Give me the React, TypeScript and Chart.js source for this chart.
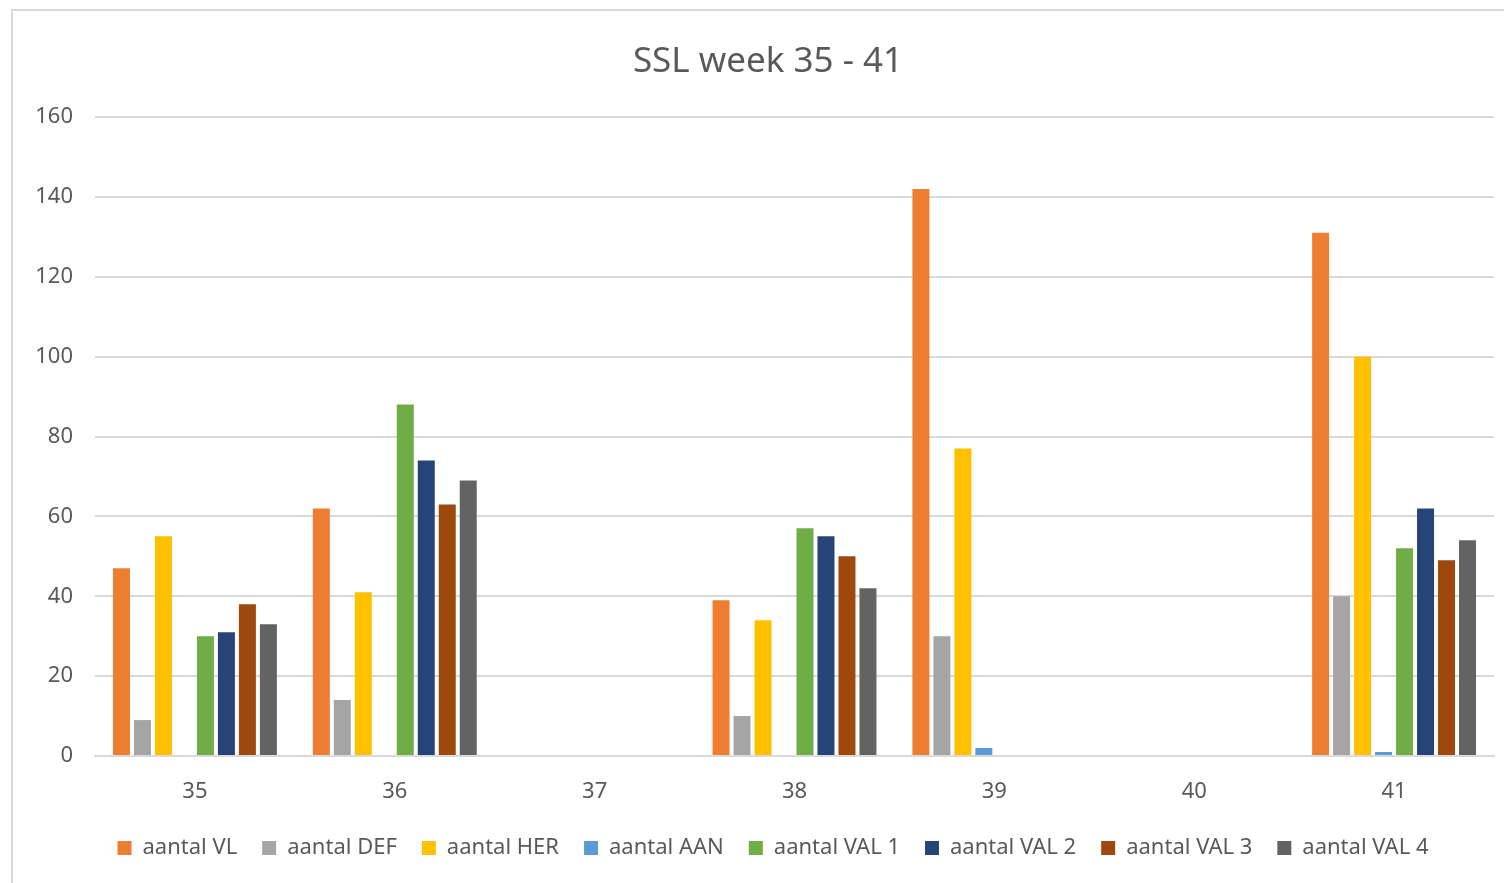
import React, { useEffect, useRef } from "react";
import { Chart, registerables } from "chart.js";

Chart.register(...registerables);

const weeks = ["35", "36", "37", "38", "39", "40", "41"];
const seriesNames = [
  "aantal VL",
  "aantal DEF",
  "aantal HER",
  "aantal AAN",
  "aantal VAL 1",
  "aantal VAL 2",
  "aantal VAL 3",
  "aantal VAL 4",
];
const aantalVL = [47, 62, 0, 39, 142, 0, 131];
const aantalDEF = [9, 14, 0, 10, 30, 0, 40];
const aantalHER = [55, 41, 0, 34, 77, 0, 100];
const aantalAAN = [0, 0, 0, 0, 2, 0, 1];
const aantalVAL1 = [30, 88, 0, 57, 0, 0, 52];
const aantalVAL2 = [31, 74, 0, 55, 0, 0, 62];
const aantalVAL3 = [38, 63, 0, 50, 0, 0, 49];
const aantalVAL4 = [33, 69, 0, 42, 0, 0, 54];
const seriesColors = [
  "#ED7D31",
  "#A5A5A5",
  "#FFC000",
  "#5B9BD5",
  "#70AD47",
  "#264478",
  "#9E480E",
  "#636363",
];
const titleText = "SSL week 35 - 41";

const FONT = "'Noto Sans', 'Open Sans', sans-serif";
const TEXT = "#595959";

const blockShift = {
  id: "blockShift",
  afterLayout(chart: any) {
    const t = chart.titleBlock;
    if (t) {
      t.left += 11;
      t.right += 11;
    }
    const l = chart.legend;
    if (l) {
      l.left += 16;
      l.right += 16;
    }
  },
};

export default function App() {
  const ref = useRef<HTMLCanvasElement | null>(null);

  useEffect(() => {
    if (!ref.current) return;
    const allData = [
      aantalVL,
      aantalDEF,
      aantalHER,
      aantalAAN,
      aantalVAL1,
      aantalVAL2,
      aantalVAL3,
      aantalVAL4,
    ];
    const chart = new Chart(ref.current, {
      type: "bar",
      data: {
        labels: weeks,
        datasets: allData.map((d, i) => ({
          label: seriesNames[i],
          data: d,
          backgroundColor: seriesColors[i],
          borderWidth: 0,
          categoryPercentage: 0.84,
          barPercentage: 0.81,
        })),
      },
      plugins: [blockShift],
      options: {
        responsive: false,
        animation: false,
        layout: { padding: { left: 20, right: 10, top: 0, bottom: 14 } },
        plugins: {
          title: {
            display: true,
            text: titleText,
            color: TEXT,
            font: { family: FONT, size: 35, weight: "normal" },
            padding: { top: 41, bottom: 34 },
          },
          legend: {
            display: true,
            position: "bottom",
            labels: {
              color: TEXT,
              font: { family: FONT, size: 22 },
              boxWidth: 14,
              boxHeight: 14,
              padding: 25,
            },
          },
          tooltip: { enabled: false },
        },
        scales: {
          x: {
            grid: { display: false, drawTicks: false },
            border: { display: true, color: "#d9d9d9", width: 2 },
            ticks: {
              color: TEXT,
              font: { family: FONT, size: 22 },
              padding: 23,
            },
            afterFit: (s: any) => {
              s.height = 56;
            },
          },
          y: {
            min: 0,
            max: 160,
            ticks: {
              stepSize: 20,
              color: TEXT,
              font: { family: FONT, size: 22 },
              padding: 22,
            },
            grid: { color: "#d9d9d9", lineWidth: 2, drawTicks: false },
            border: { display: false },
            afterFit: (s: any) => {
              s.width = 75;
            },
          },
        },
      },
    });
    return () => chart.destroy();
  }, []);

  return (
    <div
      style={{
        position: "fixed",
        left: 0,
        top: 0,
        width: 1504,
        height: 883,
        background: "#fff",
        overflow: "hidden",
      }}
    >
      <div
        style={{
          position: "absolute",
          left: 11,
          top: 9,
          width: 1504,
          height: 880,
          border: "2px solid #d9d9d9",
          boxSizing: "border-box",
        }}
      />
      <canvas
        ref={ref}
        width={1504}
        height={883}
        style={{ position: "absolute", left: 0, top: 0 }}
      />
    </div>
  );
}
